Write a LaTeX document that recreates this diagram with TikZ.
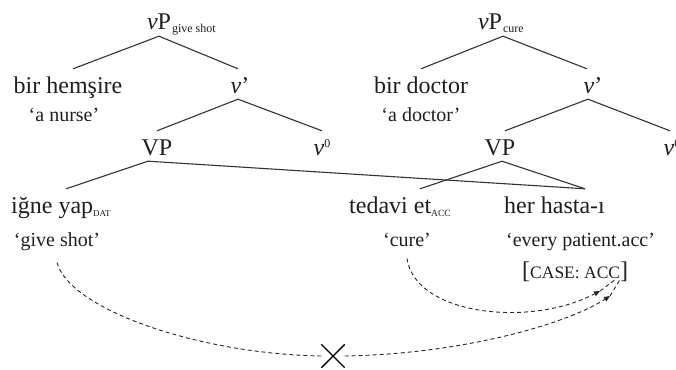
\documentclass[tikz,border=0pt]{standalone}
\usepackage{fontspec}
\setmainfont{Liberation Serif}
\usetikzlibrary{arrows.meta,shapes.misc}
\begin{document}
\begin{tikzpicture}[x=1pt,y=-1pt,
  tn/.style={anchor=base, font=\fontsize{24}{28}\selectfont, text height=18pt, text depth=0pt, inner xsep=1pt, inner ysep=6pt, text=black!88},
  gl/.style={anchor=base, font=\fontsize{20}{24}\selectfont, inner sep=3pt, text=black!88},
  edge/.style={draw=black!80, line width=1.1pt},
  dline/.style={draw=black!85, line width=0.9pt, dash pattern=on 4pt off 3pt},
  tipstyle/.style={-{Triangle[length=6pt,width=5pt]}}
]
\useasboundingbox (0,0) rectangle (676,369);
\fill[white] (0,0) rectangle (676,369);

% left tree
\node[tn] (vp1) at (159,30) {\textit{v}P\rlap{\raisebox{-2.5pt}{\fontsize{12}{12}\selectfont\kern1pt give shot}}};
\node[tn] (bh) at (68,93) {bir hemşire};
\node[gl] (nurse) at (64,121) {‘a nurse’};
\node[tn] (vb1) at (240,93) {\textit{v}’};
\node[tn] (VP1) at (157,155) {VP};
\node[tn] (v01) at (322,155) {\textit{v}\raisebox{8pt}{\fontsize{12}{12}\selectfont 0}};
\node[tn, anchor=base west] (igne) at (10,213) {iğne yap\raisebox{-3pt}{\fontsize{9}{9}\selectfont DAT}};
\node[gl] (gs) at (57,246) {‘give shot’};

% right tree
\node[tn] (vp2) at (490,30) {\textit{v}P\rlap{\raisebox{-2.5pt}{\fontsize{12}{12}\selectfont\kern1pt cure}}};
\node[tn] (bd) at (421,93) {bir doctor};
\node[gl] (doc) at (421,121) {‘a doctor’};
\node[tn] (vb2) at (593,93) {\textit{v}’};
\node[tn] (VP2) at (500,155) {VP};
\node[tn] (v02) at (672,155) {\textit{v}\raisebox{8pt}{\fontsize{12}{12}\selectfont 0}};
\node[tn, anchor=base west] (ted) at (348,213) {tedavi et\raisebox{-3pt}{\fontsize{9.5}{10}\selectfont ACC}};
\node[gl] (cure) at (407,246) {‘cure’};
\node[tn, anchor=base west] (hh) at (503,213) {her hasta-ı};
\node[gl, anchor=base west] (evp) at (503,246) {‘every patient.acc’};
\node[anchor=base west, inner sep=0, font=\fontsize{24}{28}\selectfont, text=black!88] (case) at (522,278) {[{\fontsize{17.5}{20}\selectfont CASE: ACC}]};

% tree edges
\draw[edge] (vp1.south) -- ([xshift=5pt]bh.north);
\draw[edge] (vp1.south) -- ([xshift=-2pt]vb1.north);
\draw[edge] ([xshift=-2pt]vb1.south) -- (VP1.north);
\draw[edge] ([xshift=-2pt]vb1.south) -- (v01.north);
\draw[edge] ([xshift=-9pt]VP1.south) -- ([xshift=56pt]igne.north west);
\draw[edge] ([xshift=-9pt]VP1.south) -- ([xshift=82pt]hh.north west);

\draw[edge] ([xshift=13pt]vp2.south) -- (bd.north);
\draw[edge] ([xshift=13pt]vp2.south) -- ([xshift=-6pt]vb2.north);
\draw[edge] ([xshift=-5pt]vb2.south) -- ([xshift=5pt]VP2.north);
\draw[edge] ([xshift=-5pt]vb2.south) -- ([xshift=-2pt]v02.north);
\draw[edge] ([xshift=2pt]VP2.south) -- ([xshift=72pt]ted.north west);
\draw[edge] ([xshift=2pt]VP2.south) -- ([xshift=82pt]hh.north west);

% cross and dashed arrows
\node[cross out, draw=black, line width=1.4pt, minimum size=22pt, inner sep=0pt] (X) at (333,356) {};
\coordinate (tip1) at (600,291);
\coordinate (tip2) at (610,296);
\coordinate (acc1) at (616,279);
\coordinate (acc2) at (621,278);

\draw[dline] ([yshift=-9pt]gs.south) .. controls (70,310) and (200,354) .. (X.west);
\draw[dline, tipstyle] (X.east) .. controls (460,354) and (565,325) .. (tip2);
\draw[dline] (tip2) -- (acc2);
\draw[dline, tipstyle] ([yshift=-9pt]cure.south) .. controls (415,315) and (530,328) .. (tip1);
\draw[dline] (tip1) -- (acc1);
\end{tikzpicture}
\end{document}
